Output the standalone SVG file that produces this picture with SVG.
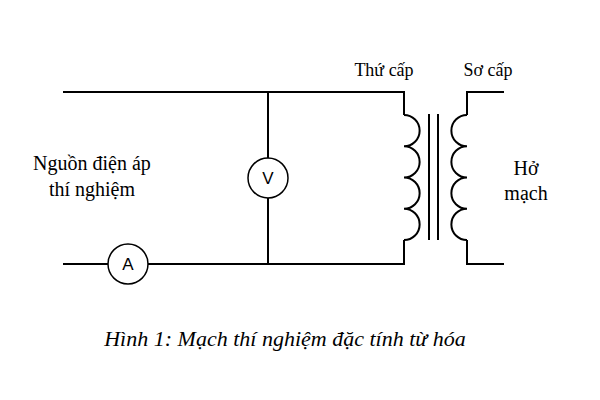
<svg xmlns="http://www.w3.org/2000/svg" width="600" height="400" viewBox="0 0 600 400">
<style>
.w{fill:none;stroke:#000;stroke-width:2}
.m{fill:#fff;stroke:#000;stroke-width:1.5}
text{font-family:"Liberation Serif",serif;fill:#000}
.s{font-family:"Liberation Sans",sans-serif}
</style>
<rect width="600" height="400" fill="#fff"/>
<g id="connectors">
<path class="w" d="M63,92 H404 V115 M404,240 V264 H63"/>
<path class="w" d="M268,92 V264"/>
<path class="w" d="M504,92 H467 V115 M467,240 V264 H504"/>
</g>
<g id="secondary">
<path class="w" d="M404,115 a15.6,15.6 0 0 1 0,31.25 a15.6,15.6 0 0 1 0,31.25 a15.6,15.6 0 0 1 0,31.25 a15.6,15.6 0 0 1 0,31.25"/>
<text x="384" y="76" font-size="18" text-anchor="middle">Thứ cấp</text>
</g>
<g id="core">
<path class="w" d="M429,114 V240 M438,114 V240"/>
</g>
<g id="primary">
<path class="w" d="M467,115 a15.6,15.6 0 0 0 0,31.25 a15.6,15.6 0 0 0 0,31.25 a15.6,15.6 0 0 0 0,31.25 a15.6,15.6 0 0 0 0,31.25"/>
<text x="488" y="76" font-size="18" text-anchor="middle">Sơ cấp</text>
</g>
<g id="voltmeter">
<circle class="m" cx="268" cy="178" r="20"/>
<text class="s" x="268" y="184" font-size="17" text-anchor="middle">V</text>
</g>
<g id="ammeter">
<circle class="m" cx="128" cy="264" r="20"/>
<text class="s" x="128" y="270" font-size="17" text-anchor="middle">A</text>
</g>
<g id="source">
<text x="92" y="170" font-size="20" text-anchor="middle">Nguồn điện áp</text>
<text x="92" y="196" font-size="20" text-anchor="middle">thí nghiệm</text>
</g>
<g id="open">
<text x="526" y="175" font-size="20" text-anchor="middle">Hở</text>
<text x="526" y="200" font-size="20" text-anchor="middle">mạch</text>
</g>
<text x="285" y="346" font-size="22" font-style="italic" text-anchor="middle">Hình 1: Mạch thí nghiệm đặc tính từ hóa</text>
</svg>
